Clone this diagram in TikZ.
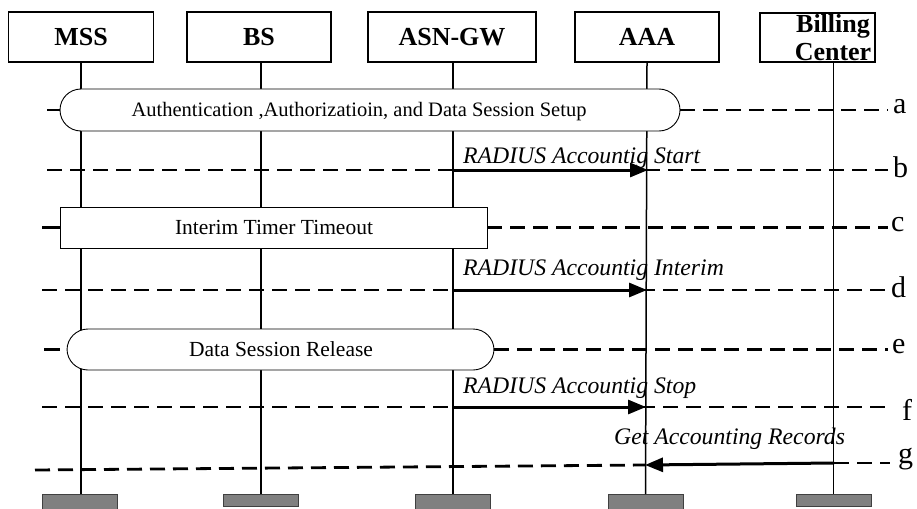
\documentclass[tikz,border=0pt]{standalone}
\usepackage{fontspec}
\setmainfont{Liberation Serif}
\usetikzlibrary{arrows.meta}
\definecolor{footgray}{RGB}{128,128,128}
\begin{document}
\begin{tikzpicture}[x=1pt,y=-1pt,
  ent/.style={draw, line width=1.4pt, minimum height=50pt, inner sep=0pt, font=\fontsize{26}{28}\selectfont\bfseries},
  foot/.style={draw=black!75, line width=1pt, fill=footgray, minimum width=75pt, inner sep=0pt},
  life/.style={line width=1.5pt},
  phase/.style={draw, fill=white, line width=0.9pt, inner sep=0pt, minimum height=42pt},
  ptext/.style={font=\fontsize{21.5}{24}\selectfont, anchor=base, inner sep=0pt},
  dsh/.style={line width=2.8pt, dash pattern=on 15pt off 8pt},
  msg/.style={line width=3pt, -{Triangle[length=18pt,width=14pt]}},
  lbl/.style={font=\fontsize{23.7}{26}\selectfont\itshape, anchor=base west, inner sep=0pt},
  tag/.style={font=\fontsize{30}{32}\selectfont, anchor=west, inner sep=0pt}]
\useasboundingbox (0,0) rectangle (917,508);

% entity boxes
\node[ent, minimum width=145pt] (mss) at (81,37) {MSS};
\node[ent, minimum width=144pt] (bs) at (259,37) {BS};
\node[ent, minimum width=168pt] (asn) at (452,37) {ASN-GW};
\node[ent, minimum width=144pt] (aaa) at (647,37) {AAA};
\node[ent, minimum width=115pt, minimum height=49pt] (bill) at (817.5,37.5) {};
\node[font=\fontsize{26}{28}\selectfont\bfseries, align=center, inner sep=0pt, anchor=base] (billt) at (833,61) {Billing\\Center};

% foot boxes
\node[foot, minimum height=18pt, anchor=north] (mssf) at (80,494) {};
\node[foot, minimum height=12pt, anchor=north] (bsf) at (261,494) {};
\node[foot, minimum height=18pt, anchor=north] (asnf) at (453,494) {};
\node[foot, minimum height=18pt, anchor=north] (aaaf) at (645.5,494) {};
\node[foot, minimum height=12pt, anchor=north] (billf) at (833.5,494) {};

% lifelines
\draw[life] (mss.south) -- (mss.south |- mssf.north);
\draw[life] (bsf.north |- bs.south) -- (bsf.north);
\draw[life] (asnf.north |- asn.south) -- (asnf.north);
\draw[life] (aaa.south) -- (aaaf.north);
\draw[life] (billf.north |- bill.south) -- (billf.north);

% a
\coordinate (aL) at (47,110);
\coordinate (aR) at (888,110);
\node[phase, rounded corners=21pt, minimum width=620pt] (pa) at (370,110) {};
\node[ptext, font=\fontsize{20.5}{24}\selectfont] (pat) at (359,117) {Authentication ,Authorizatioin, and Data Session Setup};
\draw[line width=2.8pt] (aL) -- (pa.west);
\draw[dsh] (pa.east) -- (aR);
\node[tag] (ta) at (893,107) {a};

% b
\coordinate (bL) at (47,170);
\coordinate (bR) at (888,170);
\coordinate (bS) at (453,170);
\coordinate (bE) at (648,170);
\draw[dsh] (bL) -- (bR);
\draw[msg] (bS) -- (bE);
\node[lbl] (lb) at (463,163) {RADIUS Accountig Start};
\node[tag] (tb) at (893,167) {b};

% c
\coordinate (cL) at (42,227.5);
\coordinate (cR) at (888,227.5);
\node[phase, minimum width=427pt, minimum height=41pt] (pc) at (273.5,227.5) {};
\node[ptext] (pct) at (274,234.5) {Interim Timer Timeout};
\draw[line width=2.8pt] (cL) -- (pc.west);
\draw[dsh] (pc.east) -- (cR);
\node[tag] (tc) at (891,225) {c};

% d
\coordinate (dL) at (42,290);
\coordinate (dR) at (888,290);
\coordinate (dS) at (453,290);
\coordinate (dE) at (647,290);
\draw[dsh] (dL) -- (dR);
\draw[msg] (dS) -- (dE);
\node[tag] (td) at (891,287) {d};
\node[lbl] (ld) at (463,275) {RADIUS Accountig Interim};

% e
\coordinate (eL) at (44,349.5);
\coordinate (eL2) at (60,349.5);
\coordinate (eR) at (888,349.5);
\node[phase, rounded corners=21pt, minimum width=427pt, minimum height=41pt] (pe) at (280.5,349.5) {};
\node[ptext] (pet) at (281,356.5) {Data Session Release};
\draw[line width=2.8pt] (eL) -- (eL2);
\draw[dsh] (pe.east) -- (eR);
\node[tag] (te) at (892,347) {e};

% f
\coordinate (fL) at (42,407);
\coordinate (fR) at (889,407);
\coordinate (fS) at (453,407);
\coordinate (fE) at (646,407);
\draw[dsh] (fL) -- (fR);
\draw[msg] (fS) -- (fE);
\node[lbl] (lf) at (463,393) {RADIUS Accountig Stop};
\node[tag] (tf) at (902,410) {f};

% g
\coordinate (gL) at (35,470);
\coordinate (gE) at (645,465);
\coordinate (gS) at (834,463);
\coordinate (gR) at (890,463);
\draw[dsh] (gL) -- (gE);
\draw[msg] (gS) -- (gE);
\draw[dsh] (gS) -- (gR);
\node[lbl] (lg) at (614,444) {Get Accounting Records};
\node[tag] (tg) at (898,459) {g};
\end{tikzpicture}
\end{document}
